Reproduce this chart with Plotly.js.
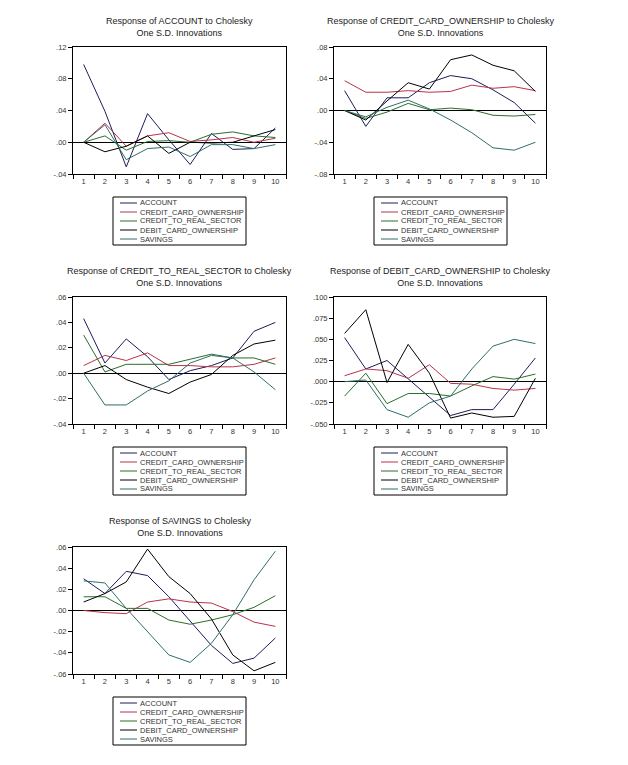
<!DOCTYPE html>
<html>
<head>
<meta charset="utf-8">
<script src="https://cdn.plot.ly/plotly-3.0.1.min.js"></script>
<style>html,body{margin:0;padding:0;background:#fff;}#chart{width:628px;height:765px;}</style>
</head>
<body>
<div id="chart"></div>
<script>
// ---------- DATA ----------
var periods = ["1","2","3","4","5","6","7","8","9","10"];
var shocks = ["ACCOUNT","CREDIT_CARD_OWNERSHIP","CREDIT_TO_REAL_SECTOR","DEBIT_CARD_OWNERSHIP","SAVINGS"];
var responders = ["ACCOUNT","CREDIT_CARD_OWNERSHIP","CREDIT_TO_REAL_SECTOR","DEBIT_CARD_OWNERSHIP","SAVINGS"];

// rows: shocks in the order above
var respACCOUNT = [
  [0.098, 0.039, -0.031, 0.036, 0.003, -0.028, 0.011, -0.009, -0.008, 0.018],
  [0.000, 0.024, -0.005, 0.008, 0.012, 0.001, 0.003, 0.006, 0.000, 0.005],
  [0.000, 0.008, -0.010, 0.001, 0.002, 0.000, 0.010, 0.013, 0.008, 0.006],
  [0.000, -0.012, -0.005, 0.008, -0.014, 0.000, -0.001, 0.000, 0.008, 0.016],
  [0.000, 0.022, -0.022, -0.008, -0.006, -0.018, -0.003, -0.003, -0.008, -0.003]
];
var respCREDIT_CARD = [
  [0.025, -0.020, 0.016, 0.016, 0.035, 0.044, 0.040, 0.026, 0.010, -0.016],
  [0.0375, 0.023, 0.023, 0.025, 0.023, 0.024, 0.032, 0.028, 0.030, 0.025],
  [0.000, -0.010, -0.002, 0.009, 0.001, 0.003, 0.001, -0.006, -0.007, -0.005],
  [0.000, -0.012, 0.012, 0.035, 0.027, 0.064, 0.070, 0.057, 0.050, 0.024],
  [0.000, -0.008, 0.004, 0.013, 0.002, -0.012, -0.028, -0.047, -0.050, -0.040]
];
var respCREDIT_TO_REAL = [
  [0.043, 0.008, 0.027, 0.013, -0.005, 0.002, 0.006, 0.012, 0.033, 0.040],
  [0.006, 0.014, 0.010, 0.016, 0.006, 0.006, 0.005, 0.005, 0.007, 0.012],
  [0.030, 0.001, 0.007, 0.007, 0.007, 0.011, 0.015, 0.012, 0.012, 0.007],
  [0.000, 0.006, -0.005, -0.011, -0.016, -0.007, -0.001, 0.014, 0.023, 0.026],
  [0.000, -0.025, -0.025, -0.014, -0.006, 0.008, 0.014, 0.012, 0.001, -0.013]
];
var respDEBIT_CARD = [
  [0.052, 0.015, 0.025, 0.003, -0.018, -0.040, -0.033, -0.033, -0.003, 0.028],
  [0.007, 0.015, 0.013, 0.004, 0.020, -0.002, -0.003, -0.008, -0.010, -0.008],
  [-0.017, 0.010, -0.026, -0.014, -0.014, -0.017, -0.005, 0.006, 0.003, 0.009],
  [0.057, 0.085, -0.001, 0.044, 0.010, -0.043, -0.037, -0.042, -0.041, 0.004],
  [0.000, 0.002, -0.033, -0.042, -0.025, -0.017, 0.015, 0.042, 0.050, 0.045]
];
var respSAVINGS = [
  [0.030, 0.016, 0.037, 0.033, 0.013, -0.010, -0.033, -0.050, -0.045, -0.026],
  [0.000, -0.002, -0.003, 0.008, 0.011, 0.008, 0.007, -0.001, -0.011, -0.015],
  [0.013, 0.013, 0.002, 0.002, -0.009, -0.013, -0.009, -0.004, 0.003, 0.014],
  [0.008, 0.016, 0.027, 0.058, 0.032, 0.016, -0.008, -0.042, -0.057, -0.049],
  [0.028, 0.026, 0.002, -0.020, -0.042, -0.049, -0.031, -0.004, 0.029, 0.056]
];

var yTicks1 = [0.12, 0.08, 0.04, 0.00, -0.04];
var yText1 = [".12", ".08", ".04", ".00", "-.04"];
var yTicks2 = [0.08, 0.04, 0.00, -0.04, -0.08];
var yText2 = [".08", ".04", ".00", "-.04", "-.08"];
var yTicks3 = [0.06, 0.04, 0.02, 0.00, -0.02, -0.04];
var yText3 = [".06", ".04", ".02", ".00", "-.02", "-.04"];
var yTicks4 = [0.100, 0.075, 0.050, 0.025, 0.000, -0.025, -0.050];
var yText4 = [".100", ".075", ".050", ".025", ".000", "-.025", "-.050"];
var yTicks5 = [0.06, 0.04, 0.02, 0.00, -0.02, -0.04, -0.06];
var yText5 = [".06", ".04", ".02", ".00", "-.02", "-.04", "-.06"];

// ---------- STYLE / LAYOUT ----------
var colors = ["#1c1c5c", "#b8324a", "#2a6e2a", "#000000", "#2e6e6a"];
var W = 628, H = 765;
var FONT = "Liberation Sans, Arial, sans-serif";
// plot boxes in pixels: [left, right, top, bottom]
var boxes = [
  [73, 286, 47, 174],
  [334, 546, 47, 174],
  [73, 286, 297, 424],
  [334, 546, 297, 424],
  [73, 286, 547, 674]
];
var panelData = [respACCOUNT, respCREDIT_CARD, respCREDIT_TO_REAL, respDEBIT_CARD, respSAVINGS];
var panelTicks = [yTicks1, yTicks2, yTicks3, yTicks4, yTicks5];
var panelText = [yText1, yText2, yText3, yText4, yText5];
var panelRange = [[-0.04, 0.12], [-0.08, 0.08], [-0.04, 0.06], [-0.05, 0.10], [-0.06, 0.06]];

function px(x) { return x / W; }
function py(y) { return 1 - y / H; }

var traces = [];
var layout = {
  width: W, height: H,
  margin: {l: 0, r: 0, t: 0, b: 0},
  paper_bgcolor: "#ffffff",
  plot_bgcolor: "#ffffff",
  showlegend: false,
  font: {family: FONT, size: 8, color: "#222"},
  shapes: [],
  annotations: []
};

for (var p = 0; p < 5; p++) {
  var b = boxes[p];
  var xa = "xaxis" + (p === 0 ? "" : (p + 1));
  var ya = "yaxis" + (p === 0 ? "" : (p + 1));
  var xr = "x" + (p === 0 ? "" : (p + 1));
  var yr = "y" + (p === 0 ? "" : (p + 1));
  layout[xa] = {
    domain: [px(b[0]), px(b[1])],
    anchor: yr,
    type: "category",
    range: [-0.5, periods.length - 0.5],
    tickson: "boundaries",
    ticks: "outside", ticklen: 4, tickcolor: "#000", tickwidth: 1,
    showline: true, linecolor: "#000", linewidth: 1, mirror: true,
    showgrid: false, zeroline: false,
    tickfont: {family: FONT, size: 7.5, color: "#333"},
    fixedrange: true
  };
  layout[ya] = {
    domain: [py(b[3]), py(b[2])],
    anchor: xr,
    range: panelRange[p],
    tickmode: "array", tickvals: panelTicks[p], ticktext: panelText[p],
    ticks: "outside", ticklen: 4, tickcolor: "#000", tickwidth: 1,
    showline: true, linecolor: "#000", linewidth: 1, mirror: true,
    showgrid: false,
    zeroline: true, zerolinecolor: "#000", zerolinewidth: 1,
    tickfont: {family: FONT, size: 7.5, color: "#333"},
    fixedrange: true
  };
  for (var s = 0; s < 5; s++) {
    traces.push({
      x: periods, y: panelData[p][s],
      xaxis: xr, yaxis: yr,
      type: "scatter", mode: "lines",
      name: shocks[s],
      line: {color: colors[s], width: 1},
      hoverinfo: "skip"
    });
  }
  // title
  layout.annotations.push({
    xref: "paper", yref: "paper",
    x: px((b[0] + b[1]) / 2), y: py(b[2] - 33),
    xanchor: "center", yanchor: "top",
    text: "Response of " + responders[p] + " to Cholesky<br>One S.D. Innovations",
    showarrow: false,
    font: {family: FONT, size: 9, color: "#222"}
  });
  // legend box
  var lx0 = b[0] + 40, lx1 = lx0 + 133, ly0 = b[3] + 23, ly1 = ly0 + 48;
  layout.shapes.push({
    type: "rect", xref: "paper", yref: "paper",
    x0: px(lx0), x1: px(lx1), y0: py(ly0), y1: py(ly1),
    line: {color: "#000", width: 1}, fillcolor: "rgba(0,0,0,0)"
  });
  for (var k = 0; k < 5; k++) {
    var yy = ly0 + 6 + k * 9;
    layout.shapes.push({
      type: "line", xref: "paper", yref: "paper",
      x0: px(lx0 + 7), x1: px(lx0 + 24), y0: py(yy), y1: py(yy),
      line: {color: colors[k], width: 1}
    });
    layout.annotations.push({
      xref: "paper", yref: "paper",
      x: px(lx0 + 25), y: py(yy),
      xanchor: "left", yanchor: "middle",
      text: shocks[k], showarrow: false,
      font: {family: FONT, size: 7.5, color: "#333"}
    });
  }
}

Plotly.newPlot("chart", traces, layout, {displayModeBar: false, staticPlot: true});
</script>
</body>
</html>
